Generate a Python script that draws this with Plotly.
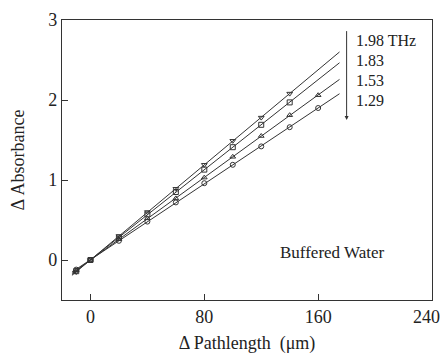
import numpy as np
import plotly.graph_objects as go

# Data
freq_labels = ["1.98 THz", "1.83", "1.53", "1.29"]
symbols = ["triangle-down-open", "square-open", "triangle-up-open", "circle-open"]
x_198 = [-10, 0, 20, 40, 60, 80, 100, 120, 140]
y_198 = [-0.15, 0.0, 0.30, 0.60, 0.89, 1.19, 1.49, 1.78, 2.08]
x_183 = [-10, 0, 20, 40, 60, 80, 100, 120, 140]
y_183 = [-0.14, 0.0, 0.28, 0.57, 0.85, 1.13, 1.41, 1.69, 1.97]
x_153 = [-10, 0, 20, 40, 60, 80, 100, 120, 140, 160]
y_153 = [-0.13, 0.0, 0.26, 0.52, 0.77, 1.03, 1.29, 1.55, 1.81, 2.06]
x_129 = [-10, 0, 20, 40, 60, 80, 100, 120, 140, 160]
y_129 = [-0.12, 0.0, 0.24, 0.48, 0.72, 0.96, 1.19, 1.42, 1.66, 1.90]
fit_range = [-13, 175]
x_ticks = [0, 80, 160, 240]
x_ticktext = ["0", "80", "160", ""]
last_tick_label = "240"

series = [(x_198, y_198), (x_183, y_183), (x_153, y_153), (x_129, y_129)]

FONT = "Liberation Serif, Times New Roman, serif"
C = "#333333"

fig = go.Figure()
for (xs, ys), sym in zip(series, symbols):
    p = np.polyfit(xs, ys, 1)
    xf = np.array(fit_range, dtype=float)
    fig.add_trace(go.Scatter(x=xf, y=np.polyval(p, xf), mode="lines",
                             line=dict(color=C, width=1), showlegend=False, hoverinfo="skip"))
    fig.add_trace(go.Scatter(x=xs, y=ys, mode="markers",
                             marker=dict(symbol=sym, size=5, color=C, line=dict(width=1, color=C)),
                             showlegend=False))

# Arrow
fig.add_annotation(x=180, y=1.75, ax=180, ay=2.88, xref="x", yref="y", axref="x", ayref="y",
                   showarrow=True, arrowhead=2, arrowsize=0.8, arrowwidth=1, arrowcolor=C, text="")
label_y = [2.75, 2.49, 2.25, 2.0]
for lab, ly in zip(freq_labels, label_y):
    fig.add_annotation(x=185, y=ly, xref="x", yref="y", text=lab, showarrow=False,
                       xanchor="left", yanchor="middle", font=dict(family=FONT, size=16, color="#222"))

fig.add_annotation(x=170, y=0.09, xref="x", yref="y", text="Buffered Water", showarrow=False,
                   xanchor="center", yanchor="middle", font=dict(family=FONT, size=17, color="#222"))

# last x tick label, kept inside the page
fig.add_annotation(x=1, y=0, xref="paper", yref="paper", text=last_tick_label, showarrow=False,
                   xanchor="right", yanchor="middle", xshift=10, yshift=-17,
                   font=dict(family=FONT, size=18, color="#222"))

axis_common = dict(showgrid=False, zeroline=False, showline=True, linecolor=C, linewidth=1.2,
                   mirror=True, ticks="inside", ticklen=6, tickcolor=C, automargin=False,
                   tickfont=dict(family=FONT, size=18, color="#222"))
fig.update_xaxes(range=[-20, 240], tickvals=x_ticks, ticktext=x_ticktext,
                 title=dict(text="Δ Pathlength  (μm)", font=dict(family=FONT, size=18, color="#222"), standoff=10),
                 **axis_common)
fig.update_yaxes(range=[-0.5, 3], tickvals=[0, 1, 2, 3],
                 title=dict(text="Δ Absorbance", font=dict(family=FONT, size=18, color="#222"), standoff=18),
                 **axis_common)
fig.update_layout(width=443, height=355, margin=dict(l=62, r=11, t=20, b=55),
                  plot_bgcolor="white", paper_bgcolor="white")
fig.write_html("out.html")
